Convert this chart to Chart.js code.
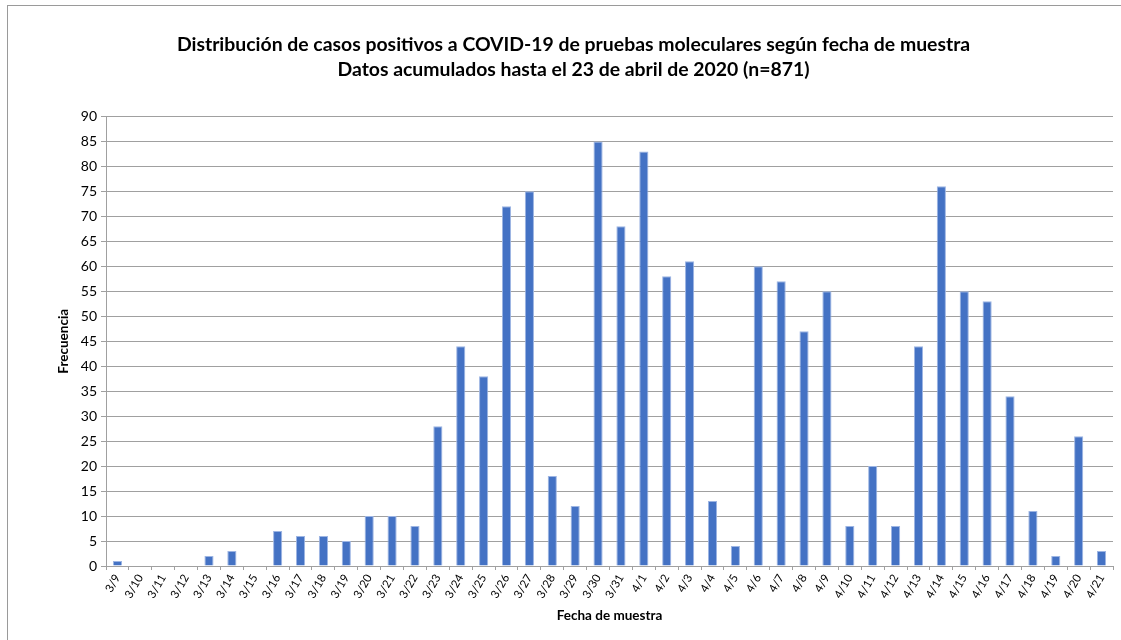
<!DOCTYPE html>
<html>
<head>
<meta charset="utf-8">
<script src="https://cdn.jsdelivr.net/npm/chart.js@4.4.1/dist/chart.umd.min.js"></script>
<style>
  html, body { margin: 0; padding: 0; background: #ffffff; }
  #wrap { width: 1121px; height: 640px; position: relative; }
</style>
</head>
<body>
<div id="wrap"><canvas id="c" width="1121" height="640"></canvas></div>
<script>
const categories = ['3/9','3/10','3/11','3/12','3/13','3/14','3/15','3/16','3/17','3/18','3/19','3/20','3/21','3/22','3/23','3/24','3/25','3/26','3/27','3/28','3/29','3/30','3/31','4/1','4/2','4/3','4/4','4/5','4/6','4/7','4/8','4/9','4/10','4/11','4/12','4/13','4/14','4/15','4/16','4/17','4/18','4/19','4/20','4/21'];
const frecuencia = [1,0,0,0,2,3,0,7,6,6,5,10,10,8,28,44,38,72,75,18,12,85,68,83,58,61,13,4,60,57,47,55,8,20,8,44,76,55,53,34,11,2,26,3];
const titleLines = ['Distribución de casos positivos a COVID-19 de pruebas moleculares según fecha de muestra', 'Datos acumulados hasta el 23 de abril de 2020 (n=871)'];
const xTitle = 'Fecha de muestra';
const yTitle = 'Frecuencia';

const FONT = 'Lato, "Open Sans", sans-serif';

const frame = {
  id: 'frame',
  afterLayout(chart) {
    // move the y-axis title closer to the tick labels
    chart.scales.y.left += 20;
  },
  afterDraw(chart) {
    const ctx = chart.ctx;
    ctx.save();
    ctx.strokeStyle = '#9a9a9a';
    ctx.lineWidth = 1;
    ctx.strokeRect(7.5, 5.5, 1200, 700);
    ctx.restore();
  }
};

new Chart(document.getElementById('c'), {
  type: 'bar',
  data: {
    labels: categories,
    datasets: [{
      label: yTitle,
      data: frecuencia,
      backgroundColor: '#4472C4',
      borderColor: '#9DB5E3',
      borderWidth: 1,
      barPercentage: 0.4,
      categoryPercentage: 1.0
    }]
  },
  options: {
    responsive: false,
    animation: false,
    devicePixelRatio: 1,
    layout: { padding: { left: 34, right: 8, top: 0, bottom: 14 } },
    plugins: {
      legend: { display: false },
      tooltip: { enabled: false },
      title: {
        display: true,
        text: titleLines,
        color: '#000000',
        font: { family: FONT, size: 19.4, weight: 'bold', lineHeight: 1.3 },
        padding: { top: 32, bottom: 34 }
      }
    },
    scales: {
      y: {
        min: 0, max: 90,
        ticks: { stepSize: 5, color: '#000000', font: { family: FONT, size: 14 }, padding: 4 },
        grid: { color: '#a0a0a0', lineWidth: 1, tickLength: 5, drawTicks: true },
        border: { color: '#a0a0a0' },
        title: { display: true, text: yTitle, color: '#000000', font: { family: FONT, size: 13.5, weight: 'bold' }, padding: 2 },
        afterFit(scale) { scale.width = 72; }
      },
      x: {
        ticks: { color: '#000000', font: { family: FONT, size: 11.5 }, minRotation: 60, maxRotation: 60, autoSkip: false, padding: 2 },
        grid: { offset: true, drawOnChartArea: false, drawTicks: true, tickLength: 4, color: '#a0a0a0' },
        border: { color: '#a0a0a0' },
        title: { display: true, text: xTitle, color: '#000000', font: { family: FONT, size: 13.5, weight: 'bold' }, padding: { top: 4, bottom: 2 } },
        afterFit(scale) { scale.height = 60; }
      }
    }
  },
  plugins: [frame]
});
</script>
</body>
</html>
